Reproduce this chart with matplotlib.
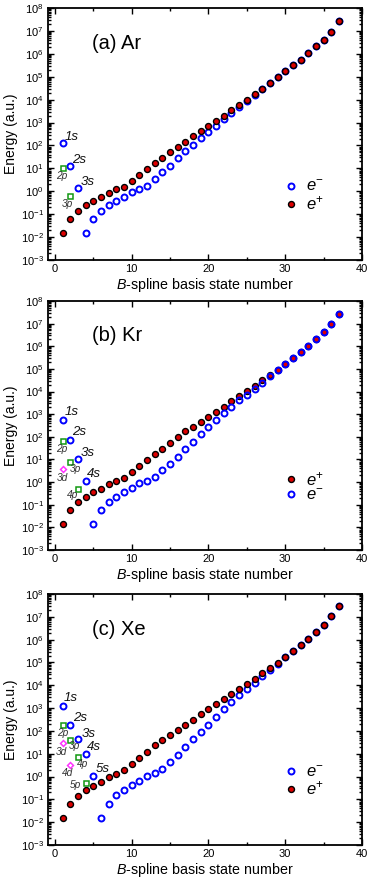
import matplotlib
matplotlib.use("Agg")
import matplotlib.pyplot as plt
from matplotlib.ticker import LogLocator, MultipleLocator, NullFormatter
import numpy as np

plt.rcParams['font.family'] = ['Liberation Sans', 'DejaVu Sans']
plt.rcParams['mathtext.fontset'] = 'custom'
plt.rcParams['mathtext.rm'] = 'Liberation Sans'
plt.rcParams['mathtext.it'] = 'Liberation Sans:italic'
plt.rcParams['mathtext.bf'] = 'Liberation Sans:bold'

# ---------------- data ----------------
state = list(range(1, 38))

ar_pos = [0.0145, 0.06, 0.14, 0.24, 0.37, 0.54, 0.84, 1.2, 1.5, 2.7, 5.2, 9.5, 16.5, 29, 50, 86,
          148, 255, 420, 690, 1150, 2000, 3500, 5900, 1.0e4, 1.7e4, 3.0e4, 5.3e4, 9.3e4, 1.7e5,
          3.1e5, 5.6e5, 1.07e6, 2.1e6, 4.2e6, 9.3e6, 2.6e7]
ar_neg = [130, 13, 1.35, 0.0145, 0.06, 0.14, 0.25, 0.39, 0.58, 0.97, 1.27, 1.78, 3.5, 6.9, 13, 28,
          55, 108, 205, 390, 740, 1400, 2600, 4700, 8500, 1.6e4, 2.9e4, 5.3e4, 9.3e4, 1.7e5,
          3.1e5, 5.6e5, 1.07e6, 2.1e6, 4.2e6, 9.3e6, 2.6e7]
ar_p_x = [1, 2]
ar_p = [10, 0.64]
ar_d_x = []
ar_d = []
ar_s_labels = ['1s', '2s', '3s']
ar_p_labels = ['2p', '3p']
ar_d_labels = []

kr_pos = [0.014, 0.056, 0.13, 0.22, 0.35, 0.51, 0.82, 1.1, 1.45, 2.7, 4.9, 9.3, 17, 30, 53, 100,
          178, 285, 470, 780, 1290, 2150, 3700, 6300, 1.07e4, 1.8e4, 3.1e4, 5.5e4, 8.9e4, 1.7e5,
          3.0e5, 5.4e5, 1.06e6, 2.1e6, 4.2e6, 9.6e6, 2.7e7]
kr_neg = [540, 70, 10.5, 1.07, 0.014, 0.056, 0.13, 0.22, 0.35, 0.53, 0.87, 1.1, 1.7, 3.3, 6.4, 13,
          28, 60, 130, 275, 540, 1100, 2100, 4100, 7400, 1.3e4, 2.4e4, 4.7e4, 8.7e4, 1.7e5,
          3.0e5, 5.4e5, 1.06e6, 2.1e6, 4.2e6, 9.6e6, 2.7e7]
kr_p_x = [1, 2, 3]
kr_p = [67, 7.6, 0.51]
kr_d_x = [1]
kr_d = [3.7]
kr_s_labels = ['1s', '2s', '3s', '4s']
kr_p_labels = ['2p', '3p', '4p']
kr_d_labels = ['3d']

xe_pos = [0.0156, 0.062, 0.146, 0.255, 0.4, 0.6, 0.93, 1.3, 1.85, 3.4, 6.3, 12.3, 23.6, 42, 68, 115,
          190, 316, 540, 900, 1500, 2400, 4000, 6600, 1.1e4, 1.9e4, 3.3e4, 5.6e4, 9.7e4, 1.7e5,
          3.1e5, 6.0e5, 1.1e6, 2.1e6, 4.4e6, 1.07e7, 3.0e7]
xe_neg = [1230, 190, 46, 9.3, 1.07, 0.0156, 0.062, 0.15, 0.26, 0.41, 0.63, 1.05, 1.38, 2.2, 4.5, 9.2,
          20, 44, 92, 190, 410, 870, 1800, 3700, 6900, 1.3e4, 2.6e4, 4.7e4, 8.7e4, 1.7e5,
          3.1e5, 6.0e5, 1.1e6, 2.1e6, 4.4e6, 1.07e7, 3.0e7]
xe_p_x = [1, 2, 3, 4]
xe_p = [178, 42, 6.9, 0.5]
xe_d_x = [1, 2]
xe_d = [31, 3.2]
xe_s_labels = ['1s', '2s', '3s', '4s', '5s']
xe_p_labels = ['2p', '3p', '4p', '5p']
xe_d_labels = ['3d', '4d']

titles = ['(a) Ar', '(b) Kr', '(c) Xe']
xlabel = r'$\mathit{B}$-spline basis state number'
ylabel = 'Energy (a.u.)'

# ---------------- style (pixel offsets of annotations) ----------------
s_off = [[(2, 6), (2, 6), (3, 6)],
         [(2, 8), (2, 8), (3, 6), (1, 7)],
         [(1, 8), (3, 7), (4, 5), (1, 7), (2, 7)]]
p_off = [[(-1, -8), (-3, -8)],
         [(-1, -8), (5, -7), (-5, -6)],
         [(0, -8), (4, -6), (5, -7), (-10, -2)]]
d_off = [[],
         [(0, -9)],
         [(-1, -9), (-3, -8)]]

panels = [
    dict(pos=ar_pos, neg=ar_neg, px=ar_p_x, p=ar_p, dx=ar_d_x, d=ar_d,
         sl=ar_s_labels, pl=ar_p_labels, dl=ar_d_labels, neg_top=False, order='neg'),
    dict(pos=kr_pos, neg=kr_neg, px=kr_p_x, p=kr_p, dx=kr_d_x, d=kr_d,
         sl=kr_s_labels, pl=kr_p_labels, dl=kr_d_labels, neg_top=True, order='pos'),
    dict(pos=xe_pos, neg=xe_neg, px=xe_p_x, p=xe_p, dx=xe_d_x, d=xe_d,
         sl=xe_s_labels, pl=xe_p_labels, dl=xe_d_labels, neg_top=False, order='neg'),
]

W, H = 374, 889
fig = plt.figure(figsize=(W / 100, H / 100), dpi=100)
boxes = [(8, 260), (301, 550), (594, 845)]
L, R = 48, 362

PT = 0.72  # px -> points

for i, (pan, (top, bot)) in enumerate(zip(panels, boxes)):
    ax = fig.add_axes([L / W, 1 - bot / H, (R - L) / W, (bot - top) / H])
    ms = 4.3
    zneg = 4 if pan['neg_top'] else 3
    zpos = 3 if pan['neg_top'] else 4
    hneg, = ax.plot(state, pan['neg'], 'o', ls='none', ms=ms, mfc='none', mec='#0000ff',
                    mew=1.4, zorder=zneg, label=r'$\mathit{e}^{-}$')
    hpos, = ax.plot(state, pan['pos'], 'o', ls='none', ms=ms, mfc='#dd0000', mec='black',
                    mew=1.0, zorder=zpos, label=r'$\mathit{e}^{+}$')
    ax.plot(pan['px'], pan['p'], 's', ls='none', ms=3.6, mfc='white', mec='#119911',
            mew=1.1, zorder=5)
    if pan['dx']:
        ax.plot(pan['dx'], pan['d'], 'D', ls='none', ms=3.0, mfc='white', mec='#ff33ff',
                mew=1.1, zorder=5)

    # labels
    for k, lab in enumerate(pan['sl']):
        dx, dy = s_off[i][k]
        ax.annotate(lab, (state[k], pan['neg'][k]), xytext=(dx * PT, dy * PT),
                    textcoords='offset points', ha='left', va='center',
                    fontsize=9.5, fontstyle='italic', color='#111111', zorder=6)
    for k, lab in enumerate(pan['pl']):
        dx, dy = p_off[i][k]
        ax.annotate(lab, (pan['px'][k], pan['p'][k]), xytext=(dx * PT, dy * PT),
                    textcoords='offset points', ha='center', va='center',
                    fontsize=7.3, fontstyle='italic', color='#333333', zorder=6)
    for k, lab in enumerate(pan['dl']):
        dx, dy = d_off[i][k]
        ax.annotate(lab, (pan['dx'][k], pan['d'][k]), xytext=(dx * PT, dy * PT),
                    textcoords='offset points', ha='center', va='center',
                    fontsize=7.3, fontstyle='italic', color='#333333', zorder=6)

    ax.set_yscale('log')
    ax.set_xlim(-0.9, 40)
    ax.set_ylim(1e-3, 1e8)
    ax.xaxis.set_major_locator(MultipleLocator(10))
    ax.xaxis.set_minor_locator(MultipleLocator(5))
    ax.yaxis.set_major_locator(LogLocator(base=10, numticks=20))
    ax.yaxis.set_minor_locator(LogLocator(base=10, subs=np.arange(2, 10), numticks=20))
    ax.yaxis.set_minor_formatter(NullFormatter())
    ax.tick_params(which='both', direction='in', top=True, right=True, width=1.0)
    ax.tick_params(which='major', length=4.5, labelsize=8, pad=3)
    ax.tick_params(which='minor', length=2.5)
    for sp in ax.spines.values():
        sp.set_linewidth(1.3)

    ax.set_xlabel(xlabel, fontsize=10.3, labelpad=1)
    ax.set_ylabel(ylabel, fontsize=10, labelpad=2)
    ax.text(0.14, 0.86, titles[i], transform=ax.transAxes, fontsize=14.5,
            ha='left', va='center')

    handles = [hneg, hpos] if pan['order'] == 'neg' else [hpos, hneg]
    ax.legend(handles=handles, loc='center left', bbox_to_anchor=(0.72, 0.255),
              frameon=False, fontsize=12, handlelength=1.0, handletextpad=0.4,
              labelspacing=0.0, borderpad=0, markerscale=1.0)

fig.savefig('out.png', dpi=100)
